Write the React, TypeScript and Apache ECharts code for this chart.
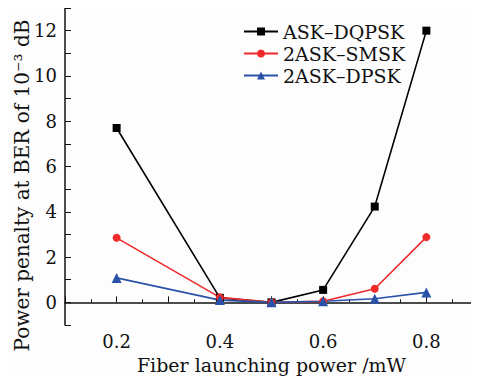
import React, { useEffect, useRef } from "react";
import * as echarts from "echarts";

const xValues = [0.2, 0.4, 0.5, 0.6, 0.7, 0.8];
const askDqpsk = [7.7, 0.2, 0.0, 0.55, 4.23, 12.0];
const askSmsk = [2.85, 0.22, 0.0, 0.05, 0.6, 2.88];
const askDpsk = [1.08, 0.1, 0.0, 0.05, 0.16, 0.44];
const xTickLabels = ["0.2", "0.4", "0.6", "0.8"];
const seriesNames = ["ASK\u2013DQPSK", "2ASK\u2013SMSK", "2ASK\u2013DPSK"];

const FONT = "DejaVu Serif";

export default function App() {
  const ref = useRef<HTMLDivElement>(null);
  useEffect(() => {
    const chart = echarts.init(ref.current!, undefined, { renderer: "svg" });
    const mk = (name: string, data: number[], color: string, symbol: string, size: number) => ({
      name,
      type: "line",
      data: xValues.map((x, i) => [x, data[i]]),
      symbol,
      symbolSize: size,
      lineStyle: { color, width: 1.6 },
      itemStyle: { color },
      z: 3,
    });
    chart.setOption({
      animation: false,
      backgroundColor: "#fdfdfd",
      textStyle: { fontFamily: FONT },
      grid: { left: 65, top: 8, right: 1, bottom: 52, outerBoundsMode: "none", containLabel: false },
      legend: {
        left: 238,
        top: 17,
        orient: "vertical",
        itemGap: 3,
        itemWidth: 34,
        itemHeight: 10,
        textStyle: { fontFamily: FONT, fontSize: 19, color: "#111" },
        data: seriesNames,
      },
      xAxis: {
        type: "value",
        min: 0.1,
        max: 0.9,
        interval: 0.1,
        name: "Fiber launching power /mW",
        nameLocation: "middle",
        nameGap: 30,
        nameMoveOverlap: false,
        nameTextStyle: { fontFamily: FONT, fontSize: 19, color: "#111", lineHeight: 20 },
        axisLine: { show: true, lineStyle: { color: "#111", width: 1.5 } },
        axisTick: { show: true, inside: true, length: 6, lineStyle: { color: "#111" } },
        minorTick: { show: true, splitNumber: 2, length: 3, lineStyle: { color: "#111" } },
        splitLine: { show: false },
        axisLabel: {
          fontFamily: FONT,
          fontSize: 18,
          lineHeight: 18,
          color: "#111",
          margin: 7,
          formatter: (v: number) => {
            const s = v.toFixed(1);
            return xTickLabels.includes(s) ? s : "";
          },
        },
      },
      yAxis: {
        type: "value",
        min: -1,
        max: 13,
        interval: 1,
        name: "Power penalty at BER of 10\u207B\u00B3 dB",
        nameLocation: "middle",
        nameGap: 33,
        nameMoveOverlap: false,
        nameTextStyle: { fontFamily: FONT, fontSize: 20, color: "#111", padding: [0, 0, 0, -38] },
        axisLine: { show: true, lineStyle: { color: "#111", width: 1.5 } },
        axisTick: {
          show: true,
          inside: true,
          length: 6,
          lineStyle: { color: "#111" },
        },
        splitLine: { show: false },
        axisLabel: {
          fontFamily: FONT,
          fontSize: 18,
          color: "#111",
          margin: 8,
          formatter: (v: number) => (v >= 0 && v % 2 === 0 ? String(v) : ""),
        },
      },
      series: [
        mk(seriesNames[0], askDqpsk, "#000000", "rect", 8),
        mk(seriesNames[1], askSmsk, "#ee2a2a", "circle", 8),
        mk(seriesNames[2], askDpsk, "#2a52a8", "triangle", 10),
      ],
    });
    return () => chart.dispose();
  }, []);
  return <div ref={ref} style={{ width: 479, height: 377, marginLeft: -8, marginTop: -8 }} />;
}
